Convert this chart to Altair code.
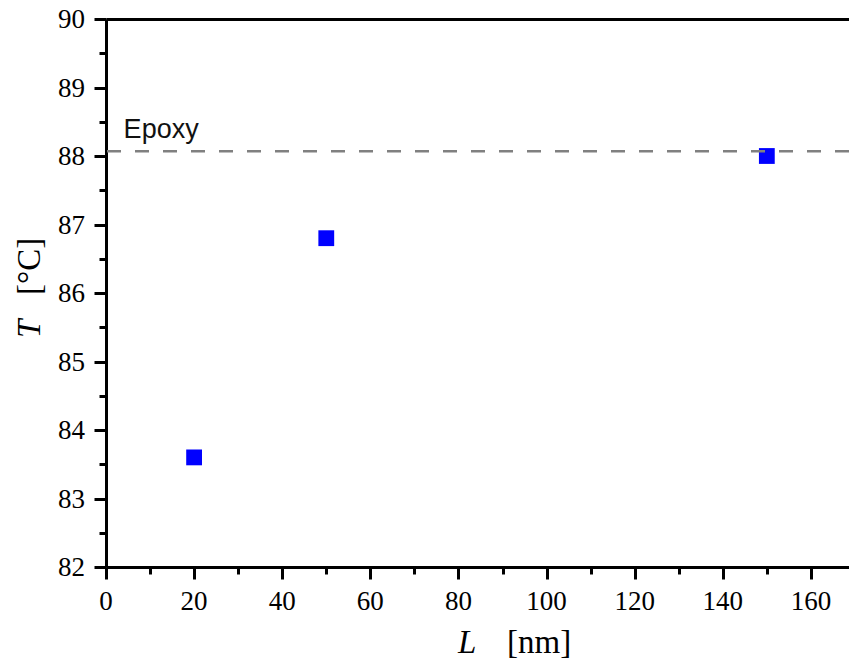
import altair as alt
import pandas as pd

# ---- data ----
L_nm = [20, 50, 150]
T_c = [83.6, 86.8, 88.0]
epoxy_T = [88.07]
epoxy_label = ["Epoxy"]
epoxy_label_x = [4]
epoxy_label_y = [88.26]

x_major = [0, 20, 40, 60, 80, 100, 120, 140, 160]
x_minor = [10, 30, 50, 70, 90, 110, 130, 150]
y_major = [82, 83, 84, 85, 86, 87, 88, 89, 90]
y_minor = [82.5, 83.5, 84.5, 85.5, 86.5, 87.5, 88.5, 89.5]

X_DOMAIN = [0, 168.65]
Y_DOMAIN = [82, 90]

SERIF = "Liberation Serif"
SANS = "Liberation Sans"

df = pd.DataFrame({"L": L_nm, "T": T_c})
df_line = pd.DataFrame({"T": epoxy_T})
df_lab = pd.DataFrame({"L": epoxy_label_x, "T": epoxy_label_y, "text": epoxy_label})
df_xt = pd.DataFrame({"v": x_major, "s": [str(v) for v in x_major]})
df_yt = pd.DataFrame({"v": y_major, "s": [str(v) for v in y_major]})

xscale = alt.Scale(domain=X_DOMAIN, nice=False, zero=False)
yscale = alt.Scale(domain=Y_DOMAIN, nice=False, zero=False)

x_major_axis = alt.Axis(orient="bottom", values=x_major, tickSize=12, labels=False,
                        tickWidth=3, tickColor="black", domainWidth=3, domainColor="black",
                        domain=True, title=None, grid=False)
y_major_axis = alt.Axis(orient="left", values=y_major, tickSize=12, labels=False,
                        tickWidth=3, tickColor="black", domainWidth=3, domainColor="black",
                        domain=True, title=None, grid=False)
x_minor_axis = alt.Axis(orient="bottom", values=x_minor, tickSize=7, labels=False,
                        tickWidth=3, tickColor="black",
                        domain=False, title=None, grid=False)
y_minor_axis = alt.Axis(orient="left", values=y_minor, tickSize=7, labels=False,
                        tickWidth=3, tickColor="black",
                        domain=False, title=None, grid=False)
x_top_axis = alt.Axis(orient="top", ticks=False, labels=False, domain=True,
                      domainWidth=3, domainColor="black",
                      title=None, grid=False)

points = alt.Chart(df).mark_square(size=250, color="#0000ff", opacity=1).encode(
    x=alt.X("L:Q", scale=xscale, axis=x_major_axis),
    y=alt.Y("T:Q", scale=yscale, axis=y_major_axis),
)

minor = alt.Chart(df).mark_point(opacity=0).encode(
    x=alt.X("L:Q", scale=xscale, axis=x_minor_axis),
    y=alt.Y("T:Q", scale=yscale, axis=y_minor_axis),
)

epoxy_line = alt.Chart(df_line).mark_rule(
    color="#808080", strokeWidth=2.5, strokeDash=[14, 14]
).encode(
    y=alt.Y("T:Q", scale=yscale, axis=None),
)

epoxy_text = alt.Chart(df_lab).mark_text(
    font=SANS, fontSize=27, align="left", baseline="alphabetic", color="#111111"
).encode(
    x=alt.X("L:Q", scale=xscale, axis=x_top_axis),
    y=alt.Y("T:Q", scale=yscale, axis=None),
    text="text:N",
)

# tick labels (serif), placed through the scales
x_labels = alt.Chart(df_xt).mark_text(
    font=SERIF, fontSize=27, align="center", baseline="alphabetic", color="black"
).encode(
    x=alt.X("v:Q", scale=xscale, axis=None),
    y=alt.value(591),
    text="s:N",
)
y_labels = alt.Chart(df_yt).mark_text(
    font=SERIF, fontSize=27, align="right", baseline="alphabetic", dy=9, color="black"
).encode(
    y=alt.Y("v:Q", scale=yscale, axis=None),
    x=alt.value(-21),
    text="s:N",
)

title_df = pd.DataFrame({"a": [0]})
x_title_L = alt.Chart(title_df).mark_text(
    text="L", font=SERIF, fontSize=33, fontStyle="italic", align="left",
    baseline="alphabetic", color="black"
).encode(x=alt.value(352), y=alt.value(634))
x_title_unit = alt.Chart(title_df).mark_text(
    text="[nm]", font=SERIF, fontSize=33, align="left",
    baseline="alphabetic", color="black"
).encode(x=alt.value(401), y=alt.value(634))
y_title_T = alt.Chart(title_df).mark_text(
    text="T", font=SERIF, fontSize=33, fontStyle="italic", align="left",
    baseline="alphabetic", angle=270, color="black"
).encode(x=alt.value(-66), y=alt.value(319))
y_title_unit = alt.Chart(title_df).mark_text(
    text="[°C]", font=SERIF, fontSize=33, align="left",
    baseline="alphabetic", angle=270, color="black"
).encode(x=alt.value(-66), y=alt.value(276))

chart = alt.layer(
    points, minor, epoxy_line, epoxy_text, x_labels, y_labels,
    x_title_L, x_title_unit, y_title_T, y_title_unit,
).resolve_axis(
    x="independent", y="independent"
).properties(
    width=743, height=548,
    autosize=alt.AutoSizeParams(type="none"),
    padding={"left": 106, "top": 19, "right": 0, "bottom": 99},
    background="white",
).configure_view(
    strokeWidth=0
)

chart.save("out.html", embed_options={"renderer": "svg", "actions": False})
